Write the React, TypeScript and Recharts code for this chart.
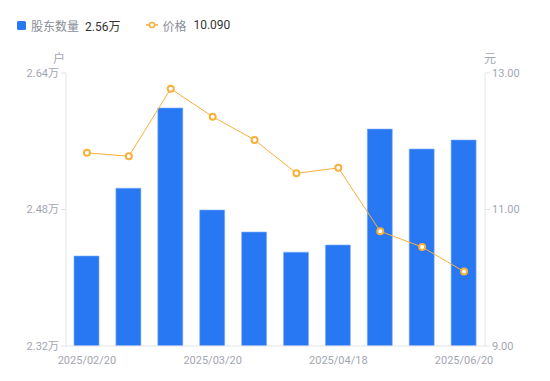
import React from "react";
import { ComposedChart, Bar, Line, XAxis, YAxis } from "recharts";

const dates = [
  "2025/02/20",
  "2025/02/28",
  "2025/03/10",
  "2025/03/20",
  "2025/03/31",
  "2025/04/10",
  "2025/04/18",
  "2025/04/30",
  "2025/05/20",
  "2025/06/20",
];
const holders = [2.4255, 2.505, 2.599, 2.4794, 2.4536, 2.43, 2.4384, 2.5743, 2.5509, 2.5615];
const prices = [11.83, 11.78, 12.77, 12.36, 12.02, 11.53, 11.61, 10.68, 10.45, 10.09];
const leftTicks = [2.32, 2.48, 2.64];
const rightTicks = [9, 11, 13];

const data = dates.map((d, i) => ({ date: d, holders: holders[i], price: prices[i] }));

const BLUE = "#2878f4";
const ORANGE = "#f8b03c";
const TICK = "#a3a6b2";
const AXIS = "#e3e4e8";

export default function App() {
  const tickStyle = { fontSize: 11, fill: TICK, fontFamily: "Roboto, 'Noto Sans CJK SC', sans-serif" };
  return (
    <div
      style={{
        position: "absolute",
        left: 0,
        top: 0,
        width: 550,
        height: 381,
        background: "#fff",
        fontFamily: "Roboto, 'Noto Sans CJK SC', sans-serif",
      }}
    >
      <div style={{ position: "absolute", left: 17, top: 17, height: 16, display: "flex", alignItems: "center", fontSize: 12 }}>
        <span style={{ width: 9, height: 9, background: BLUE, borderRadius: 1.5, display: "inline-block", marginRight: 5 }} />
        <span style={{ color: "#8a8e99" }}>股东数量</span>
        <span style={{ color: "#333", marginLeft: 6 }}>2.56万</span>
        <svg width={12} height={10} style={{ marginLeft: 26, marginRight: 4 }}>
          <line x1={0} y1={5} x2={12} y2={5} stroke={ORANGE} strokeWidth={1.5} />
          <circle cx={6} cy={5} r={2.5} fill="#fff" stroke={ORANGE} strokeWidth={1.5} />
        </svg>
        <span style={{ color: "#8a8e99" }}>价格</span>
        <span style={{ color: "#333", marginLeft: 7 }}>10.090</span>
      </div>
      <div style={{ position: "absolute", left: 53, top: 49, fontSize: 12, color: TICK }}>户</div>
      <div style={{ position: "absolute", left: 484, top: 49, fontSize: 12, color: TICK }}>元</div>
      <ComposedChart
        width={550}
        height={381}
        data={data}
        margin={{ top: 73, right: 5, bottom: 0, left: 6 }}
        barCategoryGap="20%"
      >
        <XAxis
          dataKey="date"
          interval={2}
          height={35}
          tick={tickStyle}
          tickLine={false}
          axisLine={{ stroke: AXIS }}
          tickMargin={4}
        />
        <YAxis
          yAxisId="left"
          orientation="left"
          width={60}
          domain={[2.32, 2.64]}
          ticks={leftTicks}
          tickFormatter={(v: number) => `${v.toFixed(2)}万`}
          tick={tickStyle}
          tickLine={{ stroke: AXIS }}
          tickSize={5}
          axisLine={{ stroke: AXIS }}
          allowDataOverflow
        />
        <YAxis
          yAxisId="right"
          orientation="right"
          width={60}
          domain={[9, 13]}
          ticks={rightTicks}
          tickFormatter={(v: number) => v.toFixed(2)}
          tick={tickStyle}
          tickLine={{ stroke: AXIS }}
          tickSize={5}
          axisLine={{ stroke: AXIS }}
          allowDataOverflow
        />
        <Bar
          yAxisId="left"
          dataKey="holders"
          fill={BLUE}
          stroke="#7fb0fa"
          strokeWidth={0.6}
          barSize={25}
          isAnimationActive={false}
        />
        <Line
          yAxisId="right"
          dataKey="price"
          stroke={ORANGE}
          strokeWidth={1}
          dot={{ r: 3, fill: "#fff", stroke: ORANGE, strokeWidth: 2 }}
          activeDot={false}
          isAnimationActive={false}
        />
      </ComposedChart>
    </div>
  );
}
